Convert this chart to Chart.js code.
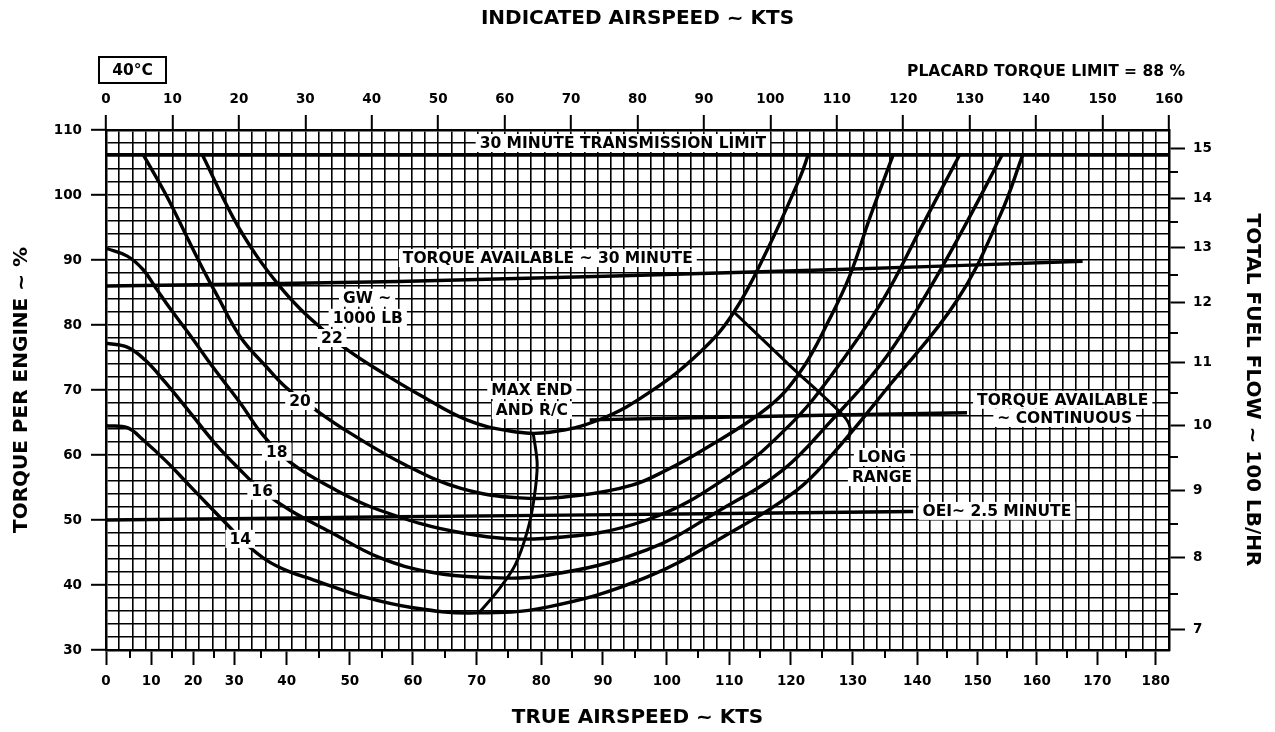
<!DOCTYPE html>
<html>
<head>
<meta charset="utf-8">
<title>Cruise chart 40°C</title>
<script src="https://cdn.jsdelivr.net/npm/chart.js@4.4.1/dist/chart.umd.min.js"></script>
<style>
  html, body { margin: 0; padding: 0; background: #fff; }
  #wrap { width: 1275px; height: 732px; position: relative; }
</style>
</head>
<body>
<div id="wrap"><canvas id="cruiseChart"></canvas></div>
<script>
// gross weight curves: x = indicated airspeed (kts), y = torque per engine (%)
var gw22Ias = [14.5, 19.1, 22.7, 26.6, 29.2, 32.2, 36.3, 41.7, 47.3, 54.3, 60.8, 66.8, 74.4, 81.9, 89.4, 94.4, 99.5, 104.5, 105.7];
var gw22Tq  = [106.2, 96.6, 90.6, 85.4, 82.5, 79.7, 76.2, 72.6, 69.2, 65.4, 63.7, 63.5, 65.5, 69.7, 75.8, 81.8, 91.5, 102.8, 106.2];

var gw20Ias = [5.6, 9.2, 12.2, 15.2, 16.7, 20.2, 24.2, 27.2, 31.2, 36.7, 45.0, 53.3, 62.3, 71.3, 79.3, 84.4, 89.4, 99.5, 104.5, 109.0, 112.0, 115.0, 118.5];
var gw20Tq  = [106.2, 99.7, 93.5, 87.4, 84.6, 78.2, 73.5, 70.3, 67.2, 63.4, 58.5, 54.9, 53.4, 53.8, 55.4, 57.7, 60.5, 67.2, 72.8, 81.1, 87.7, 96.6, 106.2];

var gw18Ias = [0, 3.2, 5.6, 7.7, 9.6, 12.6, 16.4, 20.2, 23.6, 27.7, 33.7, 41.2, 53.7, 66.4, 81.4, 94.4, 102.9, 109.0, 116.9, 122.5, 128.5];
var gw18Tq  = [91.8, 90.6, 88.5, 85.4, 82.6, 78.5, 73.1, 68.0, 63.1, 58.9, 55.1, 51.5, 48.0, 47.2, 50.0, 57.2, 64.6, 72.0, 83.8, 94.6, 106.2];

var gw16Ias = [0, 3.2, 5.9, 8.9, 12.6, 16.4, 20.2, 23.5, 27.7, 33.7, 41.2, 48.8, 56.3, 66.4, 81.4, 92.4, 101.9, 109.0, 116.5, 122.5, 128.5, 134.9];
var gw16Tq  = [77.2, 76.6, 74.6, 71.2, 66.6, 61.8, 57.7, 54.5, 51.5, 48.2, 44.2, 42.0, 41.2, 41.5, 45.4, 51.5, 57.7, 65.1, 73.8, 83.1, 93.8, 106.2];

var gw14Ias = [0, 3.2, 5.6, 9.2, 12.2, 15.2, 18.7, 20.9, 24.2, 27.5, 31.2, 38.7, 46.2, 54.8, 66.4, 81.4, 93.9, 104.0, 109.0, 118.0, 128.1, 134.6, 138.0];
var gw14Tq  = [64.5, 64.2, 62.3, 58.9, 55.7, 52.5, 48.8, 46.5, 43.8, 42.1, 40.8, 38.2, 36.5, 35.7, 36.6, 41.2, 48.0, 54.6, 59.7, 70.8, 83.8, 96.9, 106.2];

// limit lines
var xmsnIas   = [0, 160];
var xmsnTq    = [106.2, 106.2];
var tq30Ias   = [0, 44, 109, 147];
var tq30Tq    = [86.0, 86.7, 88.5, 89.8];
var tqContIas = [72.8, 112, 129.6];
var tqContTq  = [65.4, 66.2, 66.5];
var oeiIas    = [0, 44, 94, 121.5];
var oeiTq     = [50.0, 50.5, 51.0, 51.3];

// max endurance / rate of climb and long range loci
var maxEndIas = [64.3, 64.9, 64.4, 63.4, 61.6, 58.8, 56.1];
var maxEndTq  = [63.4, 58.5, 53.1, 48.2, 43.1, 38.9, 35.7];
var longRngIas = [94.5, 102.9, 110.9, 112.0, 111.7];
var longRngTq  = [82.0, 73.8, 66.15, 64.2, 62.3];

// true airspeed scale (bottom) and where each tick falls on the IAS scale
var tasTicks   = [0, 5, 10, 15, 20, 25, 30, 35, 40, 45, 50, 55, 60, 65, 70, 75, 80, 85, 90, 95, 100, 105, 110, 115, 120, 125, 130, 135, 140, 145, 150, 155, 160, 165, 170, 175, 180];
var tasTickIas = [0, 3.6, 6.8, 9.9, 13.1, 16.3, 19.3, 23.3, 27.2, 32.1, 36.7, 41.5, 46.2, 51.0, 55.8, 60.5, 65.5, 70.1, 74.8, 79.6, 84.4, 89.1, 93.8, 98.4, 103.1, 107.8, 112.4, 117.2, 122.1, 126.6, 131.2, 135.6, 140.1, 144.6, 149.2, 153.5, 158.0];

// total fuel flow scale (right) and matching torque positions
var fuelTicks      = [7, 7.5, 8, 8.5, 9, 9.5, 10, 10.5, 11, 11.5, 12, 12.5, 13, 13.5, 14, 14.5, 15];
var fuelTickTorque = [33.2, 38.6, 44.2, 49.4, 54.6, 59.7, 64.5, 69.5, 74.2, 78.8, 83.5, 87.7, 92.0, 95.9, 99.5, 103.5, 107.1];

var FONT = '"DejaVu Sans", "Liberation Sans", Arial, sans-serif';
Chart.defaults.font.family = FONT;
Chart.defaults.font.weight = 'bold';
Chart.defaults.color = '#000';

function pts(xs, ys) {
  return xs.map(function (x, i) { return { x: x, y: ys[i] }; });
}

var tasMajorPos = tasTickIas.filter(function (v, i) { return tasTicks[i] % 10 === 0; });
var tasMajorLbl = tasTicks.filter(function (v) { return v % 10 === 0; });
var fuelMajorPos = fuelTickTorque.filter(function (v, i) { return fuelTicks[i] % 1 === 0; });
var fuelMajorLbl = fuelTicks.filter(function (v) { return v % 1 === 0; });

// text written on the chart, placed in IAS / torque units
var notes = [
  { text: '30 MINUTE TRANSMISSION LIMIT', ias: 77.8, tq: 108.0 },
  { text: 'TORQUE AVAILABLE ~ 30 MINUTE', ias: 66.5, tq: 90.3 },
  { text: 'GW ~', ias: 39.3, tq: 84.2 },
  { text: '1000 LB', ias: 39.4, tq: 81.1 },
  { text: '22', ias: 34.0, tq: 78.0 },
  { text: '20', ias: 29.2, tq: 68.3 },
  { text: '18', ias: 25.7, tq: 60.5 },
  { text: '16', ias: 23.5, tq: 54.5 },
  { text: '14', ias: 20.2, tq: 47.1 },
  { text: 'MAX END', ias: 64.1, tq: 70.0 },
  { text: 'AND R/C', ias: 64.1, tq: 66.9 },
  { text: 'TORQUE AVAILABLE', ias: 144.0, tq: 68.5 },
  { text: '~ CONTINUOUS', ias: 144.3, tq: 65.7 },
  { text: 'LONG', ias: 116.8, tq: 59.7 },
  { text: 'RANGE', ias: 116.8, tq: 56.6 },
  { text: 'OEI~ 2.5 MINUTE', ias: 134.1, tq: 51.4 }
];

function line(label, xs, ys, extra) {
  var ds = {
    label: label,
    data: pts(xs, ys),
    borderColor: '#000',
    borderWidth: 3.4,
    pointRadius: 0,
    fill: false,
    tension: 0
  };
  return Object.assign(ds, extra || {});
}

var smooth = { tension: 0.4 };

var chartText = {
  id: 'chartText',
  afterDatasetsDraw: function (chart) {
    var ctx = chart.ctx, xs = chart.scales.x, ys = chart.scales.y;
    ctx.save();
    ctx.font = 'bold 15.5px ' + FONT;
    ctx.textAlign = 'center';
    ctx.textBaseline = 'middle';
    notes.forEach(function (n) {
      var px = xs.getPixelForValue(n.ias);
      var py = ys.getPixelForValue(n.tq);
      var w = ctx.measureText(n.text).width;
      ctx.fillStyle = '#fff';
      ctx.fillRect(px - w / 2 - 4, py - 9, w + 8, 18);
      ctx.fillStyle = '#000';
      ctx.fillText(n.text, px, py + 1);
    });
    ctx.restore();
  },
  afterDraw: function (chart) {
    var ctx = chart.ctx, area = chart.chartArea;
    var bot = chart.scales.xTas, right = chart.scales.yFuel;
    ctx.save();
    ctx.strokeStyle = '#000';
    ctx.lineWidth = 2;
    // half-step ticks on the true airspeed and fuel flow scales
    tasTicks.forEach(function (t, i) {
      if (t % 10 === 0) return;
      var px = Math.round(bot.getPixelForValue(tasTickIas[i]));
      ctx.beginPath();
      ctx.moveTo(px, area.bottom);
      ctx.lineTo(px, area.bottom + 8);
      ctx.stroke();
    });
    fuelTicks.forEach(function (f, i) {
      if (f % 1 === 0) return;
      var py = Math.round(right.getPixelForValue(fuelTickTorque[i]));
      ctx.beginPath();
      ctx.moveTo(area.right, py);
      ctx.lineTo(area.right + 9, py);
      ctx.stroke();
    });

    // temperature box and placard note
    ctx.font = 'bold 15.5px ' + FONT;
    ctx.textBaseline = 'middle';
    ctx.textAlign = 'center';
    ctx.strokeRect(area.left - 7, area.top - 73, 67, 26);
    ctx.fillStyle = '#000';
    ctx.fillText('40°C', area.left + 26.5, area.top - 59);
    ctx.textAlign = 'right';
    ctx.fillText('PLACARD TORQUE LIMIT = 88 %', area.right + 16, area.top - 58);
    ctx.restore();
  }
};

var gridStyle = {
  color: '#000',
  lineWidth: 1.6,
  tickLength: 15,
  tickWidth: 2,
  tickColor: function (c) {
    return c.tick && c.tick.value % 10 === 0 ? '#000' : 'rgba(0,0,0,0)';
  }
};
var frame = { color: '#000', width: 2.5 };
var tickFont = { size: 13.5, weight: 'bold' };
var titleFont = { size: 20, weight: 'bold' };

new Chart(document.getElementById('cruiseChart'), {
  type: 'line',
  data: {
    datasets: [
      line('GW 14', gw14Ias, gw14Tq, smooth),
      line('GW 16', gw16Ias, gw16Tq, smooth),
      line('GW 18', gw18Ias, gw18Tq, smooth),
      line('GW 20', gw20Ias, gw20Tq, smooth),
      line('GW 22', gw22Ias, gw22Tq, smooth),
      line('30 minute transmission limit', xmsnIas, xmsnTq),
      line('Torque available 30 minute', tq30Ias, tq30Tq, { tension: 0.3 }),
      line('Torque available continuous', tqContIas, tqContTq, { tension: 0.3 }),
      line('OEI 2.5 minute', oeiIas, oeiTq, { tension: 0.3 }),
      line('Max end and R/C', maxEndIas, maxEndTq, { tension: 0.35, borderWidth: 3 }),
      line('Long range', longRngIas, longRngTq, { tension: 0.35, borderWidth: 3 })
    ]
  },
  options: {
    responsive: true,
    maintainAspectRatio: false,
    animation: false,
    devicePixelRatio: 1,
    layout: { padding: 0 },
    plugins: {
      legend: { display: false },
      tooltip: { enabled: false }
    },
    scales: {
      x: {
        type: 'linear',
        position: 'top',
        min: 0,
        max: 160,
        bounds: 'data',
        afterFit: function (s) { s.height = 130; },
        ticks: {
          stepSize: 2,
          autoSkip: false,
          maxRotation: 0,
          minRotation: 0,
          padding: 7,
          font: tickFont,
          callback: function (v) { return v % 10 === 0 ? String(v) : ''; }
        },
        grid: gridStyle,
        border: frame,
        title: { display: true, text: 'INDICATED AIRSPEED ~ KTS', font: titleFont, padding: { top: 7 } }
      },
      xTas: {
        type: 'linear',
        position: 'bottom',
        min: 0,
        max: 160,
        bounds: 'data',
        afterFit: function (s) { s.height = 82; },
        afterBuildTicks: function (s) {
          s.ticks = tasMajorPos.map(function (v) { return { value: v }; });
        },
        ticks: {
          autoSkip: false,
          maxRotation: 0,
          minRotation: 0,
          padding: 8,
          font: tickFont,
          callback: function (v, i) { return String(tasMajorLbl[i]); }
        },
        grid: { drawOnChartArea: false, tickLength: 15, tickWidth: 2, tickColor: '#000' },
        border: frame,
        title: { display: true, text: 'TRUE AIRSPEED ~ KTS', font: titleFont, padding: { bottom: 2 } }
      },
      y: {
        type: 'linear',
        position: 'left',
        min: 30,
        max: 110,
        bounds: 'data',
        afterFit: function (s) { s.width = 106; },
        ticks: {
          stepSize: 2,
          autoSkip: false,
          padding: 9,
          font: tickFont,
          callback: function (v) { return v % 10 === 0 ? String(v) : ''; }
        },
        grid: gridStyle,
        border: frame,
        title: { display: true, text: 'TORQUE PER ENGINE ~ %', font: titleFont, padding: { top: 10 } }
      },
      yFuel: {
        type: 'linear',
        position: 'right',
        min: 30,
        max: 110,
        bounds: 'data',
        afterFit: function (s) { s.width = 106; },
        afterBuildTicks: function (s) {
          s.ticks = fuelMajorPos.map(function (v) { return { value: v }; });
        },
        ticks: {
          autoSkip: false,
          padding: 8,
          font: tickFont,
          callback: function (v, i) { return String(fuelMajorLbl[i]); }
        },
        grid: { drawOnChartArea: false, tickLength: 16, tickWidth: 2, tickColor: '#000' },
        border: frame,
        title: { display: true, text: 'TOTAL FUEL FLOW ~ 100 LB/HR', font: titleFont, padding: { top: 11 } }
      }
    }
  },
  plugins: [chartText]
});
</script>
</body>
</html>
